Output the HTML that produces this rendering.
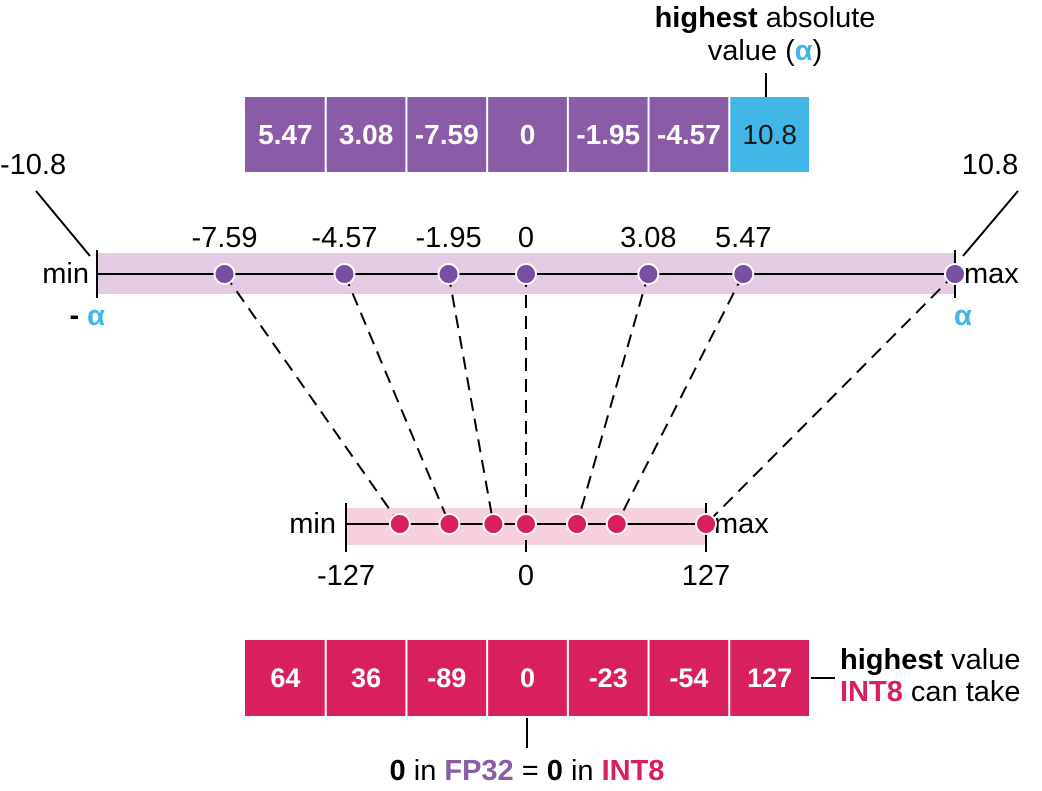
<!DOCTYPE html>
<html><head><meta charset="utf-8"><style>
html,body{margin:0;padding:0;background:#fff;}
svg{display:block;font-family:"Liberation Sans",Arial,sans-serif;}
</style></head><body>
<svg id="chart" width="1042" height="791" viewBox="0 0 1042 791">
<g id="static" font-size="29">
  <text x="765" y="27" text-anchor="middle"><tspan font-weight="bold">highest</tspan> absolute</text>
  <text x="765" y="60" text-anchor="middle">value (<tspan fill="#42b6e6" font-weight="bold">α</tspan>)</text>
  <line x1="766" y1="73" x2="766" y2="97" stroke="#000" stroke-width="2"/>
  <text x="0" y="174">-10.8</text>
  <line x1="36" y1="191" x2="90" y2="256" stroke="#000" stroke-width="2"/>
  <text x="990" y="174" text-anchor="middle">10.8</text>
  <line x1="1018" y1="191" x2="963" y2="256" stroke="#000" stroke-width="2"/>
  <text x="840" y="669"><tspan font-weight="bold">highest</tspan> value</text>
  <text x="840" y="701"><tspan fill="#d81f5f" font-weight="bold">INT8</tspan> can take</text>
  <line x1="811" y1="678" x2="835" y2="678" stroke="#000" stroke-width="2"/>
  <line x1="527" y1="718" x2="527" y2="748" stroke="#000" stroke-width="2"/>
  <text x="527" y="780" text-anchor="middle"><tspan font-weight="bold">0</tspan> in <tspan fill="#8a5ba6" font-weight="bold">FP32</tspan> = <tspan font-weight="bold">0</tspan> in <tspan fill="#d81f5f" font-weight="bold">INT8</tspan></text>
</g>
<g id="dyn"></g>
</svg>
<script>
const fpValues = [5.47, 3.08, -7.59, 0, -1.95, -4.57, 10.8];
const intValues = [64, 36, -89, 0, -23, -54, 127];
const alphaValue = 10.8;
const intMax = 127;

const NS = "http://www.w3.org/2000/svg";
const g = document.getElementById('dyn');
const FS = 29;
function mk(tag, attrs, parent) {
  const e = document.createElementNS(NS, tag);
  for (const k in attrs) e.setAttribute(k, attrs[k]);
  (parent || g).appendChild(e);
  return e;
}
const topX = v => 526 + v / alphaValue * 429;
const botX = v => 526 + v / intMax * 180;
const TOPY = 274, BOTY = 524;
const n = fpValues.length;
const bx0 = 245, bw = (810 - 245) / n;

let e;
e = mk('rect', {x: topX(-alphaValue), y: 253, width: topX(alphaValue) - topX(-alphaValue), height: 41, fill: '#e3cce3'});


e = mk('line', {x1: topX(-alphaValue), y1: TOPY, x2: topX(alphaValue), y2: TOPY, stroke: '#000', 'stroke-width': 2});


[-alphaValue, alphaValue].forEach((v, i) => {
  e = mk('line', {x1: topX(v), y1: 250, x2: topX(v), y2: 298, stroke: '#000', 'stroke-width': 2});
  
  
});
e = mk('text', {x: topX(-alphaValue) - 8, y: TOPY + 9, 'font-size': FS, 'text-anchor': 'end'}); e.textContent = 'min';


e = mk('text', {x: topX(alphaValue) + 9, y: TOPY + 9, 'font-size': FS}); e.textContent = 'max';


e = mk('text', {x: topX(-alphaValue) + 8, y: 325, 'font-size': FS, 'text-anchor': 'end', 'font-weight': 'bold'});
e.innerHTML = '- <tspan fill="#42b6e6">α</tspan>';


e = mk('text', {x: topX(alphaValue) - 1, y: 325, 'font-size': FS, fill: '#42b6e6', 'font-weight': 'bold'}); e.textContent = 'α';



e = mk('rect', {x: botX(-intMax), y: 508, width: botX(intMax) - botX(-intMax), height: 37, fill: '#f6d0de'});


e = mk('line', {x1: botX(-intMax), y1: BOTY, x2: botX(intMax), y2: BOTY, stroke: '#000', 'stroke-width': 2});


[-intMax, 0, intMax].forEach((v, i) => {
  e = mk('line', {x1: botX(v), y1: v === 0 ? 540 : 503, x2: botX(v), y2: 552, stroke: '#000', 'stroke-width': 2});
  
  
  e = mk('text', {x: botX(v), y: 585, 'font-size': FS, 'text-anchor': 'middle'}); e.textContent = String(v);
  
  
});
e = mk('text', {x: botX(-intMax) - 10, y: BOTY + 9, 'font-size': FS, 'text-anchor': 'end'}); e.textContent = 'min';


e = mk('text', {x: botX(intMax) + 8, y: BOTY + 9, 'font-size': FS}); e.textContent = 'max';



for (let i = 0; i < n; i++) {
  e = mk('line', {x1: topX(fpValues[i]), y1: TOPY, x2: botX(intValues[i]), y2: BOTY, stroke: '#000', 'stroke-width': 2, 'stroke-dasharray': '13,8'});
  
  
}
for (let i = 0; i < n; i++) {
  const v = fpValues[i];
  e = mk('circle', {cx: topX(v), cy: TOPY, r: 10, fill: '#7a4ea0', stroke: '#fff', 'stroke-width': 2});
  
  
  if (Math.abs(v) !== alphaValue) {
    e = mk('text', {x: topX(v), y: 247, 'font-size': FS, 'text-anchor': 'middle'}); e.textContent = String(v);
    
    
  }
  e = mk('circle', {cx: botX(intValues[i]), cy: BOTY, r: 10, fill: '#d81f5f', stroke: '#fff', 'stroke-width': 2});
  
  
}
for (let i = 0; i < n; i++) {
  const isA = Math.abs(fpValues[i]) === alphaValue;
  e = mk('rect', {x: bx0 + i * bw + (i ? 1 : 0), y: 97, width: bw - (i ? 2 : 1), height: 75, fill: isA ? '#42b6e6' : '#8a5ba6'});
  
  
  e = mk('text', {x: bx0 + (i + 0.5) * bw, y: 144, 'font-size': FS - 1, 'text-anchor': 'middle', fill: isA ? '#1a1a1a' : '#fff', 'font-weight': isA ? 'normal' : 'bold'}); e.textContent = String(fpValues[i]);
  
  
  e = mk('rect', {x: bx0 + i * bw + (i ? 1 : 0), y: 640, width: bw - (i ? 2 : 1), height: 76, fill: '#d81f5f'});
  
  
  e = mk('text', {x: bx0 + (i + 0.5) * bw, y: 687, 'font-size': FS - 2, 'text-anchor': 'middle', fill: '#fff', 'font-weight': 'bold'}); e.textContent = String(intValues[i]);
  
  
}
</script>
</body></html>
